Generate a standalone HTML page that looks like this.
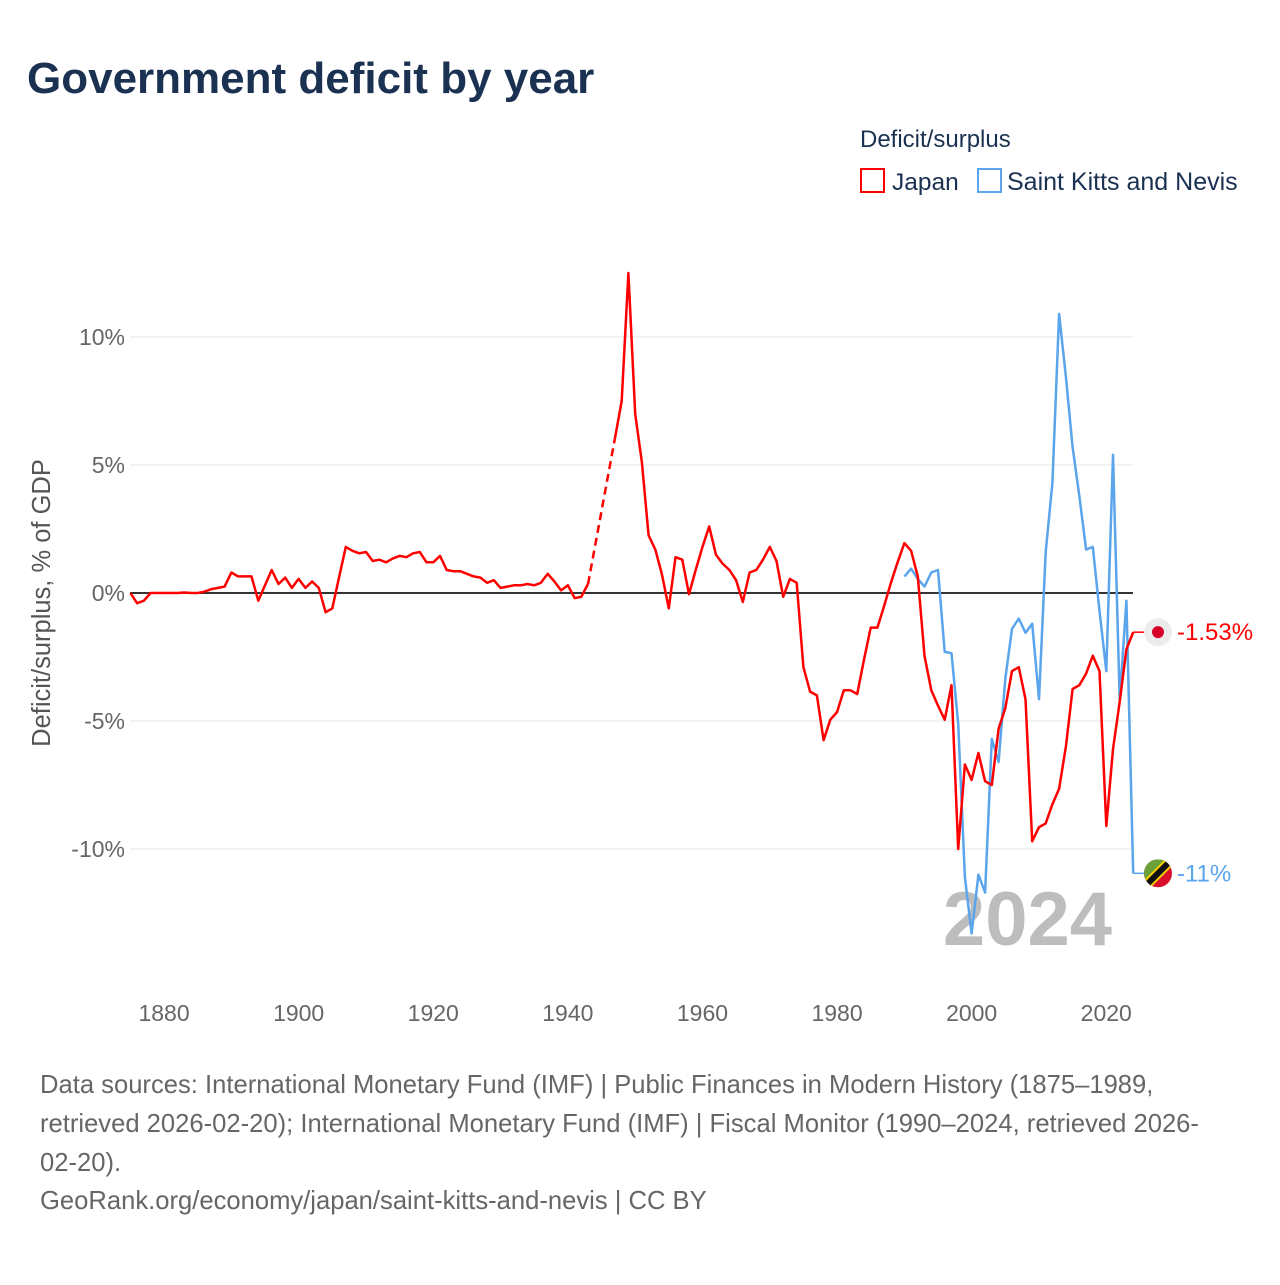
<!DOCTYPE html>
<html><head><meta charset="utf-8"><style>
body{margin:0;background:#fff;font-family:"Liberation Sans",sans-serif;}
svg text{font-family:"Liberation Sans",sans-serif;}
</style></head><body>
<svg id="chart" width="1280" height="1280" viewBox="0 0 1280 1280" xmlns="http://www.w3.org/2000/svg">
<rect width="1280" height="1280" fill="#fff"/>
<text x="27" y="93" font-size="44" font-weight="bold" fill="#1b3152">Government deficit by year</text>
<text x="860" y="147" font-size="24" fill="#1b3152">Deficit/surplus</text>
<g>
<rect x="861" y="169" width="23" height="23" fill="none" stroke="#ff0000" stroke-width="2"/>
<text x="892" y="190" font-size="24.5" fill="#1b3152">Japan</text></g>
<g>
<rect x="978" y="169" width="23" height="23" fill="none" stroke="#5aa5eb" stroke-width="2"/>
<text x="1007" y="190" font-size="25" fill="#1b3152">Saint Kitts and Nevis</text></g>
<g id="grid"></g><g id="yticks"></g><g id="xticks"></g>
<text transform="translate(50,603) rotate(-90)" text-anchor="middle" font-size="25.5" fill="#555">Deficit/surplus, % of GDP</text>
<text x="1112" y="945" text-anchor="end" font-size="76" font-weight="bold" fill="#bdbdbd">2024</text>
<g id="series"></g>
<g id="endlabels"></g>
<g font-size="25.6" fill="#666">
<text x="40" y="1093">Data sources: International Monetary Fund (IMF) | Public Finances in Modern History (1875–1989,</text>
<text x="40" y="1132">retrieved 2026-02-20); International Monetary Fund (IMF) | Fiscal Monitor (1990–2024, retrieved 2026-</text>
<text x="40" y="1171">02-20).</text>
<text x="40" y="1209">GeoRank.org/economy/japan/saint-kitts-and-nevis | CC BY</text>
</g>
</svg>
<script>
const japanYears = [];
for (let y = 1875; y <= 2024; y++) japanYears.push(y);
const japanValues = [0,-0.4,-0.3,0,0,0,0,0,0.02,0,0,0.05,0.15,0.2,0.25,0.8,0.65,0.65,0.65,-0.3,0.3,0.9,0.35,0.6,0.2,0.55,0.2,0.45,0.2,-0.75,-0.6,0.6,1.8,1.65,1.55,1.6,1.25,1.3,1.2,1.35,1.45,1.4,1.55,1.6,1.2,1.2,1.45,0.9,0.85,0.85,0.75,0.65,0.6,0.4,0.5,0.2,0.25,0.3,0.3,0.35,0.3,0.4,0.75,0.45,0.1,0.3,-0.2,-0.15,0.35,null,null,null,6.05,7.5,12.5,7.0,5.1,2.25,1.7,0.7,-0.6,1.4,1.3,-0.05,0.9,1.8,2.6,1.5,1.15,0.9,0.5,-0.35,0.8,0.9,1.3,1.8,1.25,-0.15,0.55,0.4,-2.9,-3.85,-4.0,-5.75,-4.95,-4.65,-3.8,-3.8,-3.95,-2.6,-1.35,-1.35,-0.5,0.4,1.2,1.95,1.65,0.65,-2.45,-3.8,-4.4,-4.95,-3.6,-10.0,-6.7,-7.3,-6.25,-7.35,-7.5,-5.3,-4.5,-3.05,-2.9,-4.15,-9.7,-9.15,-9.0,-8.25,-7.65,-6.0,-3.75,-3.6,-3.15,-2.45,-3.05,-9.1,-6.1,-4.25,-2.2,-1.53];
const sknYears = [];
for (let y = 1990; y <= 2024; y++) sknYears.push(y);
const sknValues = [0.65,0.95,0.55,0.25,0.8,0.9,-2.3,-2.35,-5.1,-11.1,-13.3,-11.0,-11.7,-5.7,-6.6,-3.35,-1.4,-1.0,-1.55,-1.2,-4.15,1.6,4.3,10.9,8.45,5.7,3.8,1.7,1.8,-0.7,-3.05,5.4,-4.2,-0.3,-10.95];
const yTicks = [10,5,0,-5,-10];
const yTickLabels = ["10%","5%","0%","-5%","-10%"];
const xTicks = [1880,1900,1920,1940,1960,1980,2000,2020];

const X = yr => 130.4 + (yr - 1875) * 6.73;
const Y = v => 593 - v * 25.6;
const NS = "http://www.w3.org/2000/svg";
function mk(tag, parent, attrs){const e=document.createElementNS(NS,tag);for(const k in attrs)e.setAttribute(k,attrs[k]);parent.appendChild(e);return e;}
const grid=document.getElementById('grid'), yt=document.getElementById('yticks'), xt=document.getElementById('xticks');
yTicks.forEach((v,i)=>{
  const l=mk('line',grid,{x1:130,x2:1133,y1:Y(v),y2:Y(v),stroke:v===0?'#333':'#e6e6e6','stroke-width':v===0?2:1});
  
  
  const t=mk('text',yt,{x:125,y:Y(v)+8,'text-anchor':'end','font-size':23,fill:'#666'});
  t.textContent=yTickLabels[i];
  
  
});
xTicks.forEach(yr=>{
  const t=mk('text',xt,{x:X(yr),y:1021,'text-anchor':'middle','font-size':23,fill:'#666'});
  t.textContent=yr;
  
  
});
const ser=document.getElementById('series');
function drawSeries(years, vals, color, name){
  let segs=[], cur=[];
  years.forEach((yr,i)=>{const v=vals[i]; if(v===null){if(cur.length)segs.push(cur);cur=[];} else cur.push([X(yr),Y(v)]);});
  if(cur.length) segs.push(cur);
  for(let s=0;s<segs.length;s++){
    const p=mk('path',ser,{d:'M'+segs[s].map(q=>q[0].toFixed(1)+','+q[1].toFixed(1)).join('L'),fill:'none',stroke:color,'stroke-width':2.5,'stroke-linejoin':'round'});
    
    
    if(s<segs.length-1){
      const a=segs[s][segs[s].length-1], b=segs[s+1][0];
      const d=mk('line',ser,{x1:a[0],y1:a[1],x2:b[0],y2:b[1],stroke:color,'stroke-width':2.5,'stroke-dasharray':'8,5'});
      
      
    }
  }
}
drawSeries(sknYears, sknValues, '#5aa5eb', 'saint-kitts');
drawSeries(japanYears, japanValues, '#ff0000', 'japan');
const el=document.getElementById('endlabels');
const jv=japanValues[japanValues.length-1], sv=sknValues[sknValues.length-1];
const jl=mk('line',el,{x1:X(2024),y1:Y(jv),x2:1145,y2:Y(jv),stroke:'#ff0000','stroke-width':1.5});


const sl=mk('line',el,{x1:X(2024),y1:Y(sv),x2:1145,y2:Y(sv),stroke:'#5aa5eb','stroke-width':1.5});


const jf=mk('g',el,{});


mk('circle',jf,{cx:1158,cy:Y(jv),r:14,fill:'#ececec'});
mk('circle',jf,{cx:1158,cy:Y(jv),r:6,fill:'#d8002a'});
const jt=mk('text',el,{x:1177,y:Y(jv)+8,'font-size':24,fill:'#ff0000'});
jt.textContent='-1.53%';


const sf=mk('g',el,{});


const cy=Y(sv);
const clip=mk('clipPath',sf,{id:'fc'});
mk('circle',clip,{cx:1158,cy:cy,r:14});
const fg=mk('g',sf,{'clip-path':'url(#fc)'});
mk('rect',fg,{x:1144,y:cy-14,width:28,height:28,fill:'#d8102a'});
mk('polygon',fg,{points:`1144,${cy-14} 1172,${cy-14} 1144,${cy+14}`,fill:'#6aa13a'});
mk('line',fg,{x1:1141,y1:cy+17,x2:1175,y2:cy-17,stroke:'#f5d000','stroke-width':10});
mk('line',fg,{x1:1141,y1:cy+17,x2:1175,y2:cy-17,stroke:'#111','stroke-width':6});
const st=mk('text',el,{x:1177,y:cy+8,'font-size':24,fill:'#5aa5eb'});
st.textContent='-11%';


</script>
</body></html>
